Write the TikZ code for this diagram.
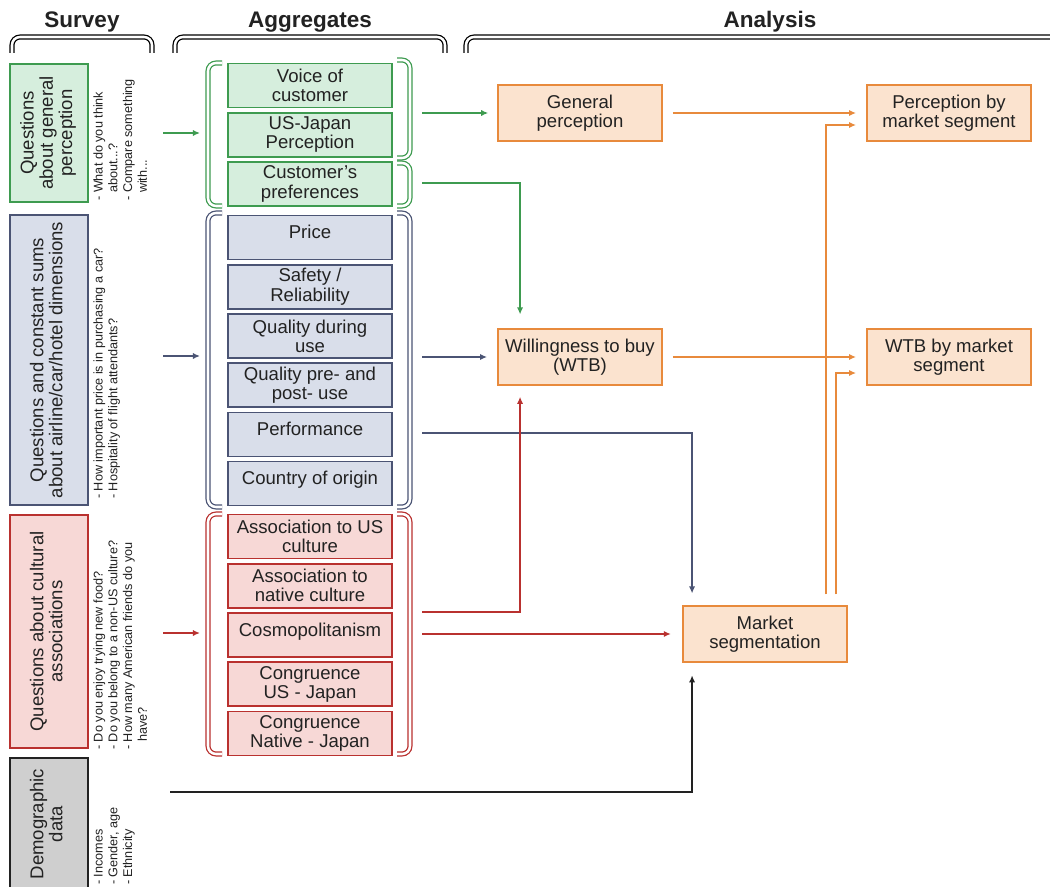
\documentclass[tikz,border=0pt]{standalone}
\usepackage{fontspec}
\setmainfont{Liberation Sans}
\usepackage{graphicx}
\usetikzlibrary{arrows.meta}
\definecolor{grn}{HTML}{3E9B50}
\definecolor{grnfill}{HTML}{D6EEDD}
\definecolor{blu}{HTML}{4B5474}
\definecolor{blufill}{HTML}{D9DEEA}
\definecolor{rd}{HTML}{B9312F}
\definecolor{rdfill}{HTML}{F7D8D6}
\definecolor{org}{HTML}{E88A3C}
\definecolor{orgfill}{HTML}{FBE3CF}
\definecolor{gry}{HTML}{CFCFCF}
\definecolor{ink}{HTML}{222222}
\begin{document}
\begin{tikzpicture}[x=0.025cm, y=0.025cm, node distance=1.23cm,
  txt/.style={font=\fontsize{13.2}{13.6}\selectfont, text=ink},
  head/.style={font=\bfseries\fontsize{16}{16}\selectfont, text=ink},
  survey/.style={draw, line width=1.4pt, minimum width=1.95cm, inner sep=0pt, txt},
  note/.style={inner sep=0pt, anchor=south west, font=\fontsize{9}{10.5}\selectfont, text=ink},
  agg/.style={draw, line width=1.2pt, minimum width=4.1cm, minimum height=1.1cm, inner sep=1pt, align=center, txt},
  oneline/.style={text depth=8pt},
  gbox/.style={agg, draw=grn, fill=grnfill},
  bbox/.style={agg, draw=blu, fill=blufill},
  rbox/.style={agg, draw=rd, fill=rdfill},
  ana/.style={draw=org, fill=orgfill, line width=1.3pt, minimum width=4.1cm, minimum height=1.38cm, align=center, txt},
  brace/.style={line width=0.9pt, double=white, double distance=1.8pt, rounded corners=0.2cm},
  arr/.style={line width=1.4pt, -{Latex[length=5pt,width=4.4pt]}}
]
\path[use as bounding box, fill=white] (0,0) rectangle (1050,-886);

\node[head] (hs) at (82,-22) {Survey};
\node[head] (ha) at (310,-22) {Aggregates};
\node[head] (hn) at (770,-22) {Analysis};
\draw[brace] (12,-53) -- (12,-37) -- (152,-37) -- (152,-53);
\draw[brace] (175,-53) -- (175,-37) -- (445,-37) -- (445,-53);
\draw[brace] (466,-53) -- (466,-37) -- (1080,-37) -- (1080,-53);

\node[survey, draw=grn, fill=grnfill, minimum height=3.45cm] (sg) at (49,-133) {\rotatebox{90}{\begin{tabular}{@{}c@{}}Questions\\about general\\perception\end{tabular}}};
\node[survey, draw=blu, fill=blufill, minimum height=7.25cm] (sb) at (49,-360) {\rotatebox{90}{\begin{tabular}{@{}c@{}}Questions and constant sums\\about airline/car/hotel dimensions\end{tabular}}};
\node[survey, draw=rd, fill=rdfill, minimum height=5.825cm] (sr) at (49,-631.5) {\rotatebox{90}{\begin{tabular}{@{}c@{}}Questions about cultural\\associations\end{tabular}}};
\node[survey, draw=ink, fill=gry, minimum height=3.3cm] (sd) at (49,-824) {\rotatebox{90}{\begin{tabular}{@{}c@{}}Demographic\\data\end{tabular}}};

\node[note] (ng) at (92,-201) {\rotatebox{90}{\begin{tabular}{@{}l@{}}- What do you think\\\hphantom{- }about...?\\- Compare something\\\hphantom{- }with...\end{tabular}}};
\node[note] (nb) at (92,-499) {\rotatebox{90}{\begin{tabular}{@{}l@{}}- How important price is in purchasing a car?\\- Hospitality of flight attendants?\end{tabular}}};
\node[note] (nr) at (92,-750) {\rotatebox{90}{\begin{tabular}{@{}l@{}}- Do you enjoy trying new food?\\- Do you belong to a non-US culture?\\- How many American friends do you\\\hphantom{- }have?\end{tabular}}};
\node[note] (nd) at (92,-885) {\rotatebox{90}{\begin{tabular}{@{}l@{}}- Incomes\\- Gender, age\\- Ethnicity\end{tabular}}};

\node[gbox] (g1) at (310,-85.5) {Voice of\\customer};
\node[gbox] (g2) [below of=g1] {US-Japan\\Perception};
\node[gbox] (g3) [below of=g2] {Customer's\\preferences};

\node[bbox, oneline] (b1) at (310,-237.5) {Price};
\node[bbox] (b2) [below of=b1] {Safety /\\Reliability};
\node[bbox] (b3) [below of=b2] {Quality during\\use};
\node[bbox] (b4) [below of=b3] {Quality pre- and\\post- use};
\node[bbox, oneline] (b5) [below of=b4] {Performance};
\node[bbox, oneline] (b6) [below of=b5] {Country of origin};

\node[rbox] (r1) at (310,-536.5) {Association to US\\culture};
\node[rbox] (r2) [below of=r1] {Association to\\native culture};
\node[rbox, oneline] (r3) [below of=r2] {Cosmopolitanism};
\node[rbox] (r4) [below of=r3] {Congruence\\US - Japan};
\node[rbox] (r5) [below of=r4] {Congruence\\Native - Japan};

\draw[brace, grn] (222,-63) -- (208,-63) -- (208,-206) -- (222,-206);
\draw[brace, grn] (397,-60) -- (410,-60) -- (410,-158) -- (397,-158);
\draw[brace, grn] (397,-163) -- (410,-163) -- (410,-206) -- (397,-206);
\draw[brace, blu] (222,-213) -- (208,-213) -- (208,-507) -- (222,-507);
\draw[brace, blu] (397,-213) -- (410,-213) -- (410,-507) -- (397,-507);
\draw[brace, rd] (222,-514) -- (208,-514) -- (208,-754) -- (222,-754);
\draw[brace, rd] (397,-514) -- (410,-514) -- (410,-754) -- (397,-754);

\node[ana] (gp) at (580,-113) {General\\perception};
\node[ana] (pm) at (949,-113) {Perception by\\market segment};
\node[ana] (wb) at (580,-357) {Willingness to buy\\(WTB)};
\node[ana] (wm) at (949,-357) {WTB by market\\segment};
\node[ana] (ms) at (765,-634) {Market\\segmentation};

\coordinate (sgo) at (163,-133);
\coordinate (sbo) at (163,-356);
\coordinate (sro) at (163,-633);
\coordinate (sdo) at (170,-792);
\coordinate (gin) at (200,-133);
\coordinate (bin) at (200,-356);
\coordinate (rin) at (200,-633);
\coordinate (go1) at (422,-113);
\coordinate (go2) at (422,-183);
\coordinate (bo1) at (422,-357);
\coordinate (bo2) at (422,-433);
\coordinate (ro1) at (422,-612);
\coordinate (ro2) at (422,-634);

\draw[arr, grn] (sgo) -- (gin);
\draw[arr, blu] (sbo) -- (bin);
\draw[arr, rd] (sro) -- (rin);
\draw[arr, ink, shorten >=0.32cm] (sdo) -| ([xshift=0.25cm]ms.south west);
\draw[arr, grn, shorten >=0.22cm] (go1) -- (gp.west);
\draw[arr, grn, shorten >=0.35cm] (go2) -| ([xshift=0.575cm]wb.north west);
\draw[arr, blu, shorten >=0.25cm] (bo1) -- (wb.west);
\draw[arr, blu, shorten >=0.3cm] (bo2) -| ([xshift=0.25cm]ms.north west);
\draw[arr, rd, shorten >=0.28cm] (ro1) -| ([xshift=0.575cm]wb.south west);
\draw[arr, rd, shorten >=0.28cm] (ro2) -- (ms.west);
\draw[arr, org, shorten <=0.25cm, shorten >=0.25cm] (gp.east) -- (pm.west);
\draw[arr, org, shorten <=0.28cm, shorten >=0.25cm] ([xshift=-0.55cm]ms.north east) |- ([yshift=-0.3cm]pm.west);
\draw[arr, org, shorten <=0.25cm, shorten >=0.25cm] (wb.east) -- (wm.west);
\draw[arr, org, shorten <=0.28cm, shorten >=0.25cm] ([xshift=-0.3cm]ms.north east) |- ([yshift=-0.4cm]wm.west);
\end{tikzpicture}
\end{document}
